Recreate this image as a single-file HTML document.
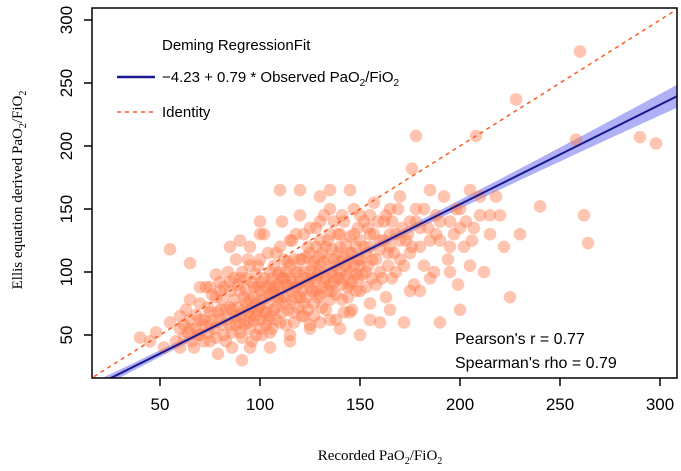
<!DOCTYPE html>
<html><head><meta charset="utf-8"><style>
body{margin:0;background:#fff}
svg text{font-family:"Liberation Sans",sans-serif}
</style></head><body>
<svg id="c" width="681" height="466">
<defs><clipPath id="pc"><rect x="92" y="8" width="585" height="370"/></clipPath></defs>
<g id="band" clip-path="url(#pc)"></g>
<g id="pts" clip-path="url(#pc)"></g>
<g id="lines" clip-path="url(#pc)"></g>
<rect x="92" y="8" width="585" height="370" fill="none" stroke="#000" stroke-width="1.5"/>
<g id="axes"></g>
<text x="162" y="50" font-size="15">Deming RegressionFit</text>
<line x1="117" y1="77" x2="155" y2="77" stroke="#1a1a8c" stroke-width="2.5"/>
<text x="162" y="82" font-size="15">−4.23 + 0.79 * Observed PaO<tspan font-size="10" dy="4">2</tspan><tspan dy="-4">/FiO</tspan><tspan font-size="10" dy="4">2</tspan></text>
<line x1="117" y1="112" x2="155" y2="112" stroke="#ff5a1f" stroke-width="1.5" stroke-dasharray="4,4"/>
<text x="162" y="117" font-size="15">Identity</text>
<text x="455" y="344" font-size="16">Pearson's r = 0.77</text>
<text x="455" y="368" font-size="16">Spearman's rho = 0.79</text>
<text x="380" y="460" font-size="15" text-anchor="middle" style="font-family:'Liberation Serif',serif">Recorded PaO<tspan font-size="10" dy="4">2</tspan><tspan dy="-4">/FiO</tspan><tspan font-size="10" dy="4">2</tspan></text>
<text transform="translate(22,190) rotate(-90)" font-size="15" text-anchor="middle" style="font-family:'Liberation Serif',serif">Ellis equation derived PaO<tspan font-size="10" dy="4">2</tspan><tspan dy="-4">/FiO</tspan><tspan font-size="10" dy="4">2</tspan></text>
</svg>
<script>
const xTicks=[50,100,150,200,250,300];
const yTicks=[50,100,150,200,250,300];
const fitIntercept=-4.23, fitSlope=0.79;
const xVals=[40,45,48,52,55,55,58,60,62,63,65,65,67,68,70,70,72,73,75,75,77,78,79,80,80,82,83,84,85,86,87,88,88,90,90,91,92,93,94,95,95,96,97,98,99,100,100,101,102,103,104,105,105,106,107,108,109,110,110,111,112,113,114,115,115,116,117,118,119,120,120,121,122,123,124,125,125,126,127,128,129,130,130,131,132,133,134,135,135,136,137,138,139,140,140,141,142,143,144,145,145,146,147,148,149,150,150,152,153,154,155,156,157,158,160,160,162,163,164,165,166,168,170,170,172,173,175,176,177,178,178,180,182,184,185,187,188,190,190,192,194,195,197,199,200,202,205,207,208,210,212,215,218,220,222,225,228,230,240,258,260,262,264,290,298,130,140,160,150,200,205,180,120,110,100,90,85,130,135,145,155,165,175,85,92,98,103,108,113,118,122,100,95,105,110,115,125,130,90,80,75,70,65,60,140,135,128,150,
60,62,64,66,68,69,71,72,74,74,76,76,78,79,81,81,82,83,84,85,86,86,87,88,89,89,90,91,91,92,93,93,94,94,95,96,96,97,97,98,98,99,99,100,100,101,101,102,102,103,103,104,104,105,105,106,106,107,107,108,108,109,109,110,110,111,111,112,112,113,113,114,114,115,115,116,116,117,117,118,118,119,119,120,120,121,121,122,122,123,123,124,124,125,125,126,126,127,127,128,128,129,129,130,130,131,131,132,132,133,133,134,134,135,135,136,136,137,137,138,138,139,139,140,140,141,141,142,142,143,143,144,144,145,145,146,146,147,147,148,148,149,149,150,150,151,152,153,153,154,155,155,156,157,158,159,160,161,162,163,164,165,166,167,168,169,170,171,172,174,176,178,180,182,185,188,190,195,198,200,203,206,210,215,100,95,90,85,80,78,75,70,65,95,105,115,125,135,145,155,165,175,185,195];
const yVals=[48,45,52,40,118,60,45,55,48,70,107,62,40,55,75,50,62,88,45,68,55,80,35,62,92,50,70,100,58,40,78,65,110,52,85,30,70,95,60,78,120,45,88,65,105,72,55,92,130,80,62,100,40,85,70,115,90,60,78,140,95,75,108,85,50,125,68,100,90,80,145,110,65,95,120,88,55,105,75,135,98,82,160,115,92,70,125,100,150,85,110,62,130,95,120,78,140,105,88,115,165,70,130,98,110,85,145,120,100,135,75,110,155,90,125,100,140,80,115,150,95,130,110,160,60,125,140,182,90,208,150,120,105,135,165,100,145,60,125,160,110,140,130,90,150,120,165,135,208,145,100,130,160,145,120,80,237,130,152,205,275,145,123,207,202,60,55,60,50,70,105,85,165,165,140,125,120,140,165,90,130,130,115,72,80,75,68,82,90,88,75,85,65,90,100,95,100,105,60,70,58,62,55,65,108,90,85,105,
40,58,52,45,66,50,58,45,72,52,62,82,48,68,58,78,88,45,63,85,70,52,95,58,72,90,66,48,100,58,76,86,68,110,55,72,92,62,80,98,50,70,88,62,110,78,50,68,95,88,58,75,115,65,82,95,55,88,105,62,72,98,80,88,120,68,95,80,110,58,100,88,70,105,125,78,92,110,60,80,130,100,72,92,110,85,65,100,130,80,112,92,70,115,135,85,95,108,65,95,120,80,112,100,125,88,72,108,145,95,120,85,110,78,130,100,118,92,140,105,82,115,95,100,130,90,145,112,68,122,98,108,80,128,100,115,92,105,150,120,85,95,135,110,125,98,140,115,88,105,120,145,95,130,110,140,118,95,125,145,105,120,140,115,100,150,125,135,105,130,120,140,135,150,125,130,140,120,150,135,140,125,160,145,130,105,95,92,85,98,88,88,78,40,52,45,58,62,68,62,70,85,95,100];
const X=v=>60+2*v, Y=v=>398-1.26*v;
const NS="http://www.w3.org/2000/svg";
function mk(t,a,p){const e=document.createElementNS(NS,t);for(const k in a)e.setAttribute(k,a[k]);p.appendChild(e);return e;}
const band=document.getElementById('band'),pts=document.getElementById('pts'),lines=document.getElementById('lines'),axes=document.getElementById('axes');
let up=[],lo=[];
for(let x=10;x<=320;x+=5){const y=fitIntercept+fitSlope*x,h=2+0.00018*(x-110)*(x-110);up.push(X(x)+','+Y(y+h));lo.unshift(X(x)+','+Y(y-h));}
const b=mk('polygon',{points:up.concat(lo).join(' '),fill:'#7b7bf0',opacity:0.6},band);


const n=Math.min(xVals.length,yVals.length);
for(let i=0;i<n;i++){const c=mk('circle',{cx:X(xVals[i]),cy:Y(yVals[i]),r:6.3,fill:'#ff7f50','fill-opacity':0.45},pts);

}
const idl=mk('line',{x1:X(0),y1:Y(0),x2:X(320),y2:Y(320),stroke:'#ff5a1f','stroke-width':1.5,'stroke-dasharray':'4,4'},lines);


const fl=mk('line',{x1:X(10),y1:Y(fitIntercept+fitSlope*10),x2:X(320),y2:Y(fitIntercept+fitSlope*320),stroke:'#1a1a8c','stroke-width':2},lines);


xTicks.forEach(t=>{mk('line',{x1:X(t),y1:378,x2:X(t),y2:386,stroke:'#000','stroke-width':1.5},axes);
const tx=mk('text',{x:X(t),y:410,'font-size':17,'text-anchor':'middle'},axes);tx.textContent=t;

});
yTicks.forEach(t=>{mk('line',{x1:84,y1:Y(t),x2:92,y2:Y(t),stroke:'#000','stroke-width':1.5},axes);
const tx=mk('text',{'font-size':17,'text-anchor':'middle',transform:`translate(72,${Y(t)}) rotate(-90)`},axes);tx.textContent=t;

});
</script>
</body></html>
